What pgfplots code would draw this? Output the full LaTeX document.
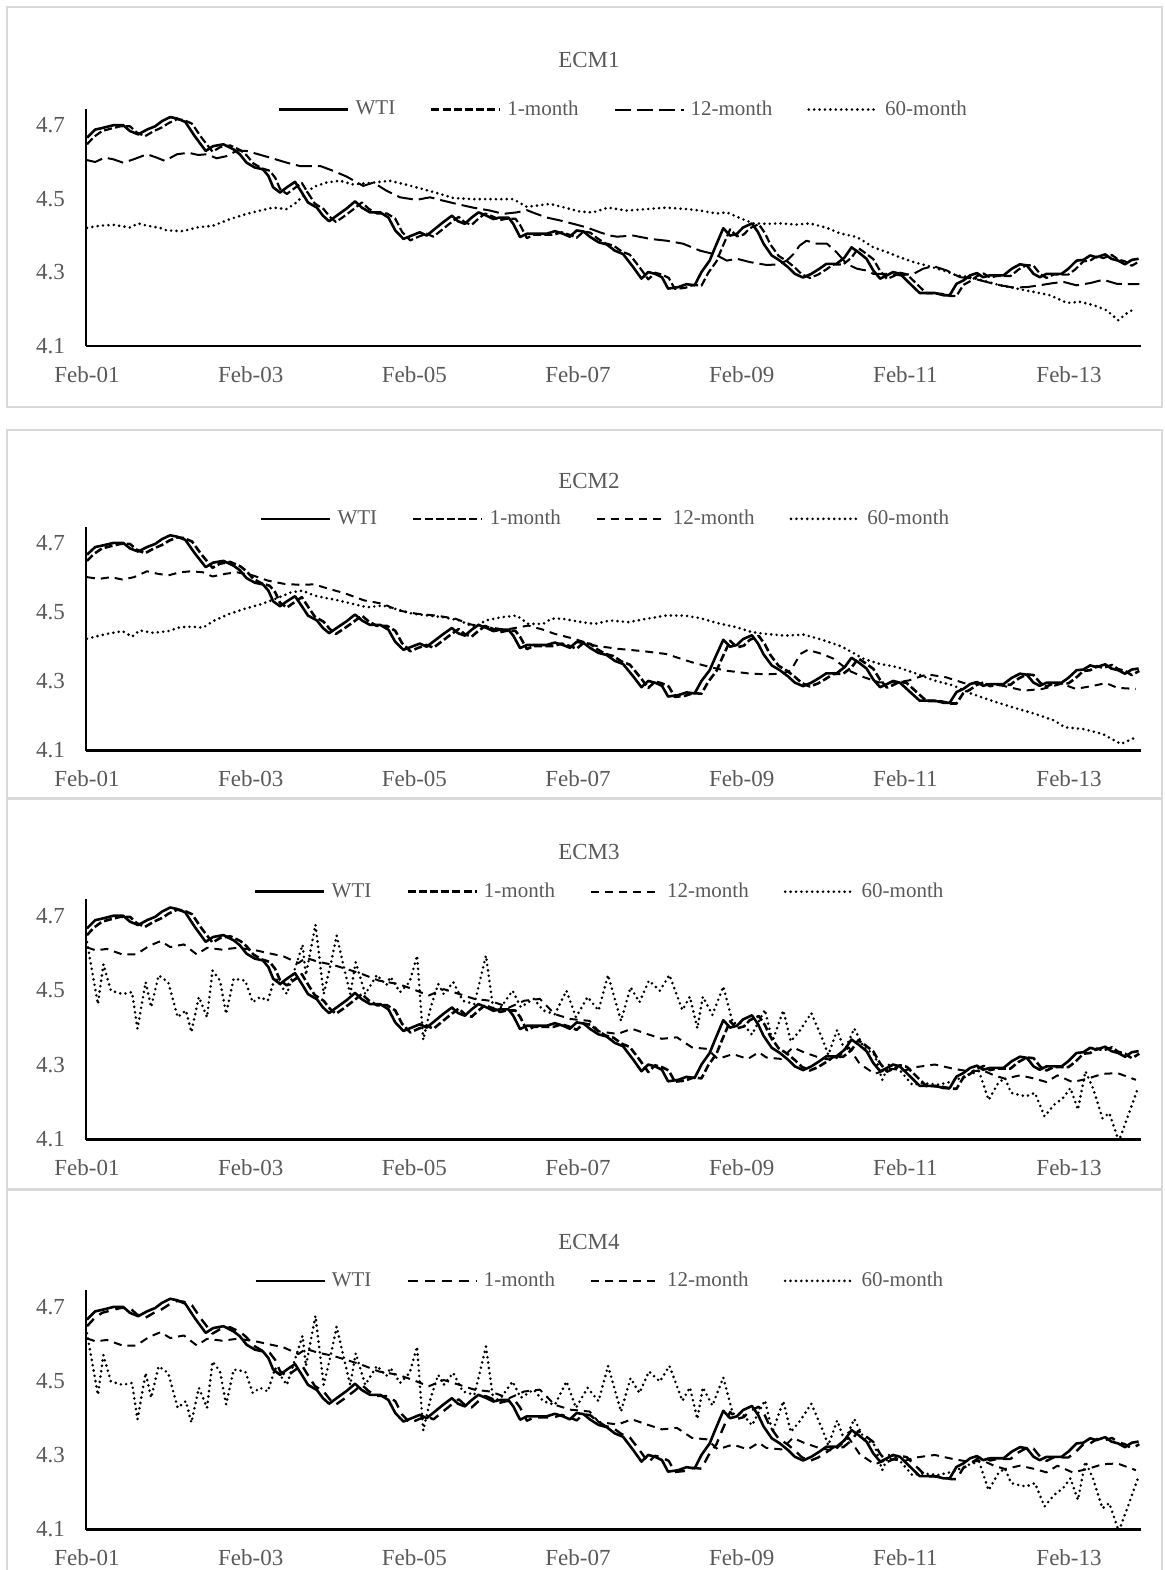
\documentclass[border=0pt]{standalone}
\usepackage{fontspec}
\setmainfont{Liberation Serif}
\usepackage{pgfplots}
\usepackage{pgfplotstable}
\pgfplotsset{compat=1.18}

\definecolor{txtgray}{HTML}{595959}
\definecolor{framegray}{HTML}{D9D9D9}

% x = months since Feb-01, y = log price
\pgfplotstableread{
m v
0 4.666
1.2 4.688
2.4 4.693
3.9 4.700
5.3 4.700
6.3 4.684
7.5 4.675
8.8 4.688
10.0 4.697
11.0 4.711
12.2 4.722
13.2 4.718
14.4 4.709
15.8 4.670
17.4 4.630
18.5 4.643
20.0 4.648
21.5 4.634
22.4 4.621
23.4 4.598
24.6 4.585
25.8 4.580
26.6 4.562
27.3 4.531
28.3 4.517
29.3 4.531
30.5 4.546
31.5 4.517
32.4 4.490
33.7 4.476
34.6 4.454
35.5 4.439
36.6 4.454
38.1 4.474
39.3 4.493
40.3 4.476
41.5 4.463
43.0 4.463
44.2 4.449
45.2 4.414
46.4 4.391
47.6 4.400
48.8 4.409
49.8 4.400
51.0 4.418
52.2 4.436
53.5 4.454
54.4 4.439
55.4 4.432
56.4 4.449
57.4 4.463
58.6 4.454
59.6 4.445
60.5 4.449
61.8 4.449
62.5 4.432
63.5 4.396
64.5 4.405
65.9 4.405
67.4 4.405
68.6 4.412
69.8 4.405
70.8 4.397
71.8 4.414
72.8 4.411
73.8 4.396
75.0 4.382
76.2 4.376
77.4 4.359
78.6 4.350
80.1 4.314
81.3 4.283
82.3 4.301
83.3 4.296
84.3 4.287
85.2 4.256
86.7 4.260
87.9 4.268
89.1 4.265
90.1 4.301
91.3 4.332
92.1 4.368
93.3 4.420
94.3 4.400
95.3 4.405
96.2 4.422
97.5 4.433
98.4 4.409
99.2 4.378
100.4 4.346
101.6 4.332
102.8 4.314
103.8 4.296
105.0 4.286
106.2 4.296
107.4 4.310
108.4 4.323
109.9 4.323
111.1 4.341
112.1 4.368
113.1 4.355
114.3 4.337
115.3 4.305
116.3 4.283
117.3 4.292
118.2 4.301
119.2 4.296
120.2 4.278
121.2 4.260
122.1 4.244
123.1 4.244
124.3 4.244
125.6 4.238
126.5 4.238
127.5 4.269
128.5 4.278
129.5 4.292
130.5 4.298
131.4 4.287
132.4 4.292
133.4 4.292
134.4 4.292
135.6 4.310
136.8 4.322
137.8 4.319
138.8 4.296
139.7 4.287
140.7 4.296
141.7 4.296
142.9 4.296
143.9 4.310
145.1 4.332
146.1 4.334
147.1 4.346
148.0 4.341
149.3 4.349
150.2 4.337
151.2 4.332
152.2 4.322
153.2 4.334
154.2 4.337
}\wti

\pgfplotstableread{
m v
0 4.648
1.0 4.668
2.2 4.684
3.4 4.690
4.9 4.697
6.3 4.697
7.3 4.680
8.5 4.670
9.8 4.684
11.0 4.694
12.0 4.706
13.2 4.716
14.2 4.714
15.4 4.704
16.8 4.666
18.4 4.628
19.5 4.640
21.0 4.645
22.5 4.632
23.4 4.618
24.4 4.596
25.6 4.583
26.8 4.576
27.6 4.557
28.3 4.527
29.3 4.513
30.3 4.527
31.5 4.543
32.5 4.513
33.4 4.487
34.7 4.472
35.6 4.451
36.5 4.437
37.6 4.451
39.1 4.472
40.3 4.490
41.3 4.473
42.5 4.460
44.0 4.460
45.2 4.446
46.2 4.410
47.4 4.387
48.6 4.397
49.8 4.405
50.8 4.397
52.0 4.415
53.2 4.433
54.5 4.451
55.4 4.436
56.4 4.429
57.4 4.446
58.4 4.460
59.6 4.451
60.6 4.442
61.5 4.446
62.8 4.446
63.5 4.429
64.5 4.393
65.5 4.402
66.9 4.402
68.4 4.402
69.6 4.409
70.8 4.402
71.8 4.394
72.8 4.411
73.8 4.408
74.8 4.393
76.0 4.379
77.2 4.373
78.4 4.357
79.6 4.348
81.1 4.312
82.3 4.281
83.3 4.299
84.3 4.294
85.3 4.285
86.2 4.255
87.7 4.258
88.9 4.266
90.1 4.264
91.1 4.299
92.3 4.330
93.1 4.366
94.3 4.417
95.3 4.398
96.3 4.403
97.2 4.420
98.5 4.431
99.4 4.407
100.2 4.376
101.4 4.345
102.6 4.331
103.8 4.313
104.8 4.295
106.0 4.285
107.2 4.294
108.4 4.308
109.4 4.321
110.9 4.322
112.1 4.340
113.1 4.366
114.1 4.353
115.3 4.336
116.3 4.304
117.3 4.282
118.3 4.290
119.2 4.299
120.2 4.295
121.2 4.277
122.2 4.259
123.1 4.243
124.1 4.243
125.3 4.242
126.6 4.236
127.5 4.236
128.5 4.266
129.5 4.276
130.5 4.290
131.5 4.297
132.4 4.286
133.4 4.290
134.4 4.290
135.4 4.290
136.6 4.308
137.8 4.320
138.8 4.318
139.8 4.295
140.7 4.285
141.7 4.294
142.7 4.294
143.9 4.294
144.9 4.308
146.1 4.330
147.1 4.332
148.1 4.344
149.0 4.339
150.3 4.347
151.2 4.335
152.2 4.330
153.2 4.318
154.3 4.330
}\onemonth

% ECM1 forecasts
\pgfplotstableread{
m v
0 4.605
1.2 4.600
2.6 4.612
3.9 4.607
5.3 4.598
6.8 4.607
8.8 4.621
10.2 4.612
11.4 4.603
13.2 4.621
14.9 4.625
16.3 4.619
17.6 4.621
19.0 4.610
20.5 4.616
22.0 4.631
23.4 4.630
24.9 4.622
26.8 4.612
29.3 4.598
31.2 4.589
34.2 4.589
36.1 4.576
38.1 4.560
40.5 4.535
42.0 4.544
43.9 4.522
45.9 4.504
48.3 4.497
50.3 4.504
52.2 4.495
54.2 4.486
56.6 4.476
59.1 4.468
61.0 4.459
63.0 4.463
64.5 4.469
65.9 4.459
67.4 4.449
69.4 4.441
71.3 4.432
73.3 4.422
75.2 4.409
76.7 4.400
77.7 4.397
80.1 4.400
82.6 4.391
85.0 4.386
87.4 4.378
89.9 4.359
92.1 4.349
93.8 4.332
95.3 4.337
97.2 4.328
99.7 4.320
101.4 4.322
102.6 4.332
103.6 4.350
104.5 4.373
105.5 4.386
107.0 4.378
108.5 4.378
109.9 4.355
111.4 4.323
112.9 4.310
114.3 4.305
115.3 4.296
117.3 4.296
119.2 4.292
121.2 4.296
122.6 4.310
124.1 4.317
126.1 4.305
128.0 4.287
130.0 4.283
131.9 4.274
133.9 4.265
135.8 4.259
137.8 4.260
139.7 4.265
141.7 4.271
143.2 4.274
145.1 4.265
147.1 4.271
149.0 4.280
151.0 4.269
153.4 4.268
154.3 4.268
}\ecmAtwelve

\pgfplotstableread{
m v
0 4.421
1.9 4.427
3.9 4.429
6.3 4.422
7.5 4.433
8.8 4.427
10.7 4.421
11.7 4.414
14.1 4.412
16.1 4.422
18.5 4.427
21.0 4.445
23.4 4.459
25.4 4.468
27.3 4.476
29.3 4.472
30.7 4.490
32.2 4.517
33.2 4.532
35.1 4.544
37.1 4.549
39.0 4.539
42.0 4.544
44.4 4.549
46.9 4.538
49.3 4.526
51.8 4.513
53.7 4.502
56.6 4.499
59.6 4.499
62.5 4.499
64.5 4.478
67.9 4.486
70.3 4.475
72.3 4.465
74.2 4.463
76.4 4.476
79.1 4.468
82.1 4.472
85.0 4.476
87.9 4.472
89.9 4.468
92.3 4.460
93.8 4.463
95.7 4.448
97.7 4.433
99.7 4.432
101.6 4.433
104.1 4.430
106.0 4.433
108.5 4.421
110.4 4.406
112.9 4.396
114.3 4.380
115.3 4.368
117.3 4.355
119.2 4.341
121.2 4.328
123.6 4.316
125.6 4.305
127.5 4.292
129.5 4.287
131.4 4.278
133.9 4.265
136.3 4.256
138.8 4.247
141.2 4.238
143.7 4.217
145.6 4.220
147.6 4.211
149.5 4.197
151.2 4.170
152.4 4.188
153.7 4.202
}\ecmAsixty

% ECM2 forecasts
\pgfplotstableread{
m v
0 4.601
1.8 4.596
3.5 4.601
5.2 4.594
6.9 4.601
8.8 4.618
10.3 4.611
11.9 4.606
13.6 4.615
15.3 4.618
17.0 4.615
18.4 4.603
20.4 4.611
22.0 4.615
24.3 4.606
26.5 4.591
28.8 4.582
31.0 4.579
33.3 4.580
35.5 4.567
37.7 4.555
40.6 4.534
43.4 4.524
45.6 4.505
48.4 4.495
51.2 4.490
54.0 4.481
56.3 4.464
59.1 4.456
61.3 4.449
64.7 4.461
66.9 4.449
68.6 4.437
71.4 4.423
74.5 4.403
77.8 4.394
81.6 4.387
84.9 4.379
88.7 4.355
91.4 4.341
93.6 4.331
96.9 4.323
99.6 4.320
101.8 4.322
103.2 4.331
104.6 4.379
105.7 4.391
107.8 4.379
109.5 4.365
111.7 4.331
113.9 4.312
116.1 4.297
118.2 4.297
120.4 4.302
123.2 4.320
125.9 4.312
128.6 4.295
131.4 4.293
134.1 4.288
137.4 4.273
140.1 4.278
142.9 4.293
145.0 4.278
147.8 4.288
149.4 4.295
151.1 4.281
153.8 4.278
}\ecmBtwelve

\pgfplotstableread{
m v
0 4.423
2.9 4.437
5.2 4.445
6.6 4.429
7.7 4.447
9.7 4.440
11.9 4.445
13.6 4.456
15.3 4.458
17.0 4.455
18.7 4.476
20.9 4.495
23.2 4.510
25.4 4.522
27.6 4.538
29.9 4.557
31.6 4.562
33.3 4.548
34.9 4.541
36.6 4.535
38.9 4.524
41.1 4.514
43.4 4.519
45.6 4.507
47.8 4.495
50.1 4.490
52.3 4.485
54.6 4.476
56.8 4.456
58.5 4.476
60.7 4.485
63.0 4.490
64.7 4.466
66.9 4.466
68.1 4.481
69.7 4.481
72.5 4.471
74.5 4.466
76.7 4.476
79.4 4.471
82.1 4.481
84.9 4.490
87.6 4.490
89.8 4.483
92.5 4.468
95.3 4.456
97.5 4.442
99.6 4.437
102.4 4.432
105.1 4.435
107.8 4.420
110.6 4.401
113.9 4.365
116.1 4.351
118.8 4.341
121.5 4.323
124.3 4.302
127.0 4.288
129.7 4.264
132.5 4.245
135.7 4.225
139.0 4.206
141.8 4.187
143.4 4.167
146.1 4.162
148.9 4.148
151.6 4.119
153.8 4.138
}\ecmBsixty

% ECM3 / ECM4 forecasts
\pgfplotstableread{
m v
0 4.615
1.3 4.607
2.9 4.611
5.2 4.596
7.2 4.596
9.1 4.619
10.8 4.632
12.2 4.616
14.2 4.623
16.1 4.596
17.6 4.614
19.8 4.609
22.0 4.614
24.3 4.609
26.5 4.600
28.8 4.591
31.0 4.573
32.1 4.587
33.8 4.577
36.1 4.568
37.7 4.559
40.0 4.546
42.8 4.526
45.6 4.517
47.8 4.503
50.1 4.486
52.3 4.503
54.6 4.490
56.8 4.477
59.1 4.472
61.9 4.454
64.1 4.472
66.4 4.477
68.6 4.436
70.9 4.423
73.7 4.418
75.0 4.390
77.8 4.383
79.9 4.397
82.1 4.383
84.3 4.370
86.5 4.374
88.7 4.347
90.9 4.343
92.5 4.316
94.7 4.329
96.9 4.316
98.5 4.334
99.6 4.320
101.8 4.316
103.5 4.347
105.1 4.334
107.3 4.320
109.5 4.312
111.7 4.347
113.3 4.303
115.5 4.276
117.7 4.290
119.9 4.285
121.5 4.294
124.3 4.301
127.0 4.290
129.2 4.283
131.4 4.285
133.0 4.272
134.6 4.263
136.8 4.272
139.0 4.263
140.7 4.254
142.3 4.272
144.5 4.254
146.7 4.263
148.9 4.276
151.1 4.278
153.8 4.260
}\ecmCtwelve

\pgfplotstableread{
m v
0 4.629
1.6 4.463
2.4 4.570
3.5 4.499
5.2 4.490
6.6 4.495
7.4 4.397
8.6 4.522
9.4 4.455
10.5 4.540
11.9 4.522
13.3 4.428
14.5 4.446
15.3 4.388
16.4 4.482
17.6 4.428
18.4 4.553
19.5 4.526
20.4 4.437
21.5 4.531
23.2 4.526
24.3 4.468
25.4 4.482
26.5 4.472
27.6 4.535
29.3 4.490
31.6 4.622
32.1 4.541
33.5 4.676
34.7 4.490
35.8 4.575
36.6 4.647
37.7 4.559
38.6 4.490
39.4 4.575
40.8 4.490
42.5 4.541
43.9 4.514
44.5 4.536
45.9 4.495
47.3 4.522
48.4 4.593
49.3 4.367
50.4 4.455
51.5 4.517
52.3 4.490
53.7 4.522
55.1 4.472
56.8 4.463
58.5 4.593
59.6 4.446
60.7 4.455
62.4 4.499
63.6 4.455
65.5 4.477
66.9 4.446
68.6 4.436
70.3 4.499
71.7 4.428
73.4 4.482
75.0 4.446
76.4 4.541
78.3 4.418
79.7 4.508
81.0 4.468
82.4 4.526
84.0 4.499
85.4 4.541
87.3 4.447
88.4 4.483
89.5 4.398
90.3 4.483
91.7 4.434
93.3 4.510
94.7 4.412
96.1 4.412
97.5 4.381
99.4 4.448
100.5 4.363
102.1 4.446
103.2 4.363
104.6 4.394
106.2 4.439
107.8 4.371
108.7 4.327
110.0 4.394
111.1 4.338
112.5 4.398
113.9 4.347
115.5 4.327
116.6 4.260
117.7 4.305
119.3 4.283
121.0 4.247
122.6 4.251
124.8 4.247
127.0 4.256
129.2 4.274
130.8 4.283
132.2 4.206
133.6 4.251
134.6 4.265
135.5 4.225
136.6 4.220
137.7 4.216
139.0 4.225
140.4 4.162
141.8 4.193
143.1 4.211
144.2 4.238
145.3 4.180
146.4 4.283
147.5 4.238
148.9 4.157
149.9 4.171
151.3 4.095
152.7 4.166
154.1 4.238
}\ecmCsixty

\pgfplotsset{
  wti/.style={black, line width=1.3pt, solid},
  onem/.style={black, line width=1.1pt, dash pattern=on 4pt off 1.6pt},
  onemlong/.style={black, line width=1.2pt, dash pattern=on 5pt off 3.5pt},
  twelvelong/.style={black, line width=1pt, dash pattern=on 8pt off 3pt},
  twelvemed/.style={black, line width=1pt, dash pattern=on 4pt off 3pt},
  sixty/.style={black, line width=1.45pt, line cap=round, dash pattern=on 0pt off 2.7pt},
  ecm/.style={
    scale only axis,
    width=527.5pt,
    xmin=-0.15, xmax=154.55,
    ymin=4.1, ymax=4.745,
    axis x line*=bottom, axis y line*=left,
    axis line style={line width=1.2pt, -},
    xtick={0,24,48,72,96,120,144},
    xticklabels={Feb-01,Feb-03,Feb-05,Feb-07,Feb-09,Feb-11,Feb-13},
    ytick={4.1,4.3,4.5,4.7},
    /pgf/number format/fixed,
    /pgf/number format/precision=1,
    /pgf/number format/fixed zerofill,
    /pgf/number format/assume math mode=true,
    major tick length=0pt,
    tick style={draw=none},
    ticklabel style={font=\fontsize{11.5}{13}\selectfont, text=txtgray},
    xticklabel style={yshift=-6.5pt},
    yticklabel style={xshift=-7pt},
    every axis plot/.append style={no markers, line join=round},
    legend columns=4,
    legend style={draw=none, fill=none, anchor=center,
      font=\fontsize{10.5}{12}\selectfont, text=txtgray,
      nodes={inner sep=0pt},
      /tikz/every odd column/.append style={column sep=3pt},
      /tikz/every even column/.append style={column sep=17.5pt}},
    legend image code/.code={\draw[##1] (0pt,0pt) -- (34.5pt,0pt);},
  },
}

\begin{document}
\begin{tikzpicture}
\path[use as bounding box] (0,0) rectangle (582.5pt,-785pt);

% panel frames
\draw[framegray, line width=1pt] (3.5pt,-3.5pt) rectangle (581pt,-203.5pt);
\draw[framegray, line width=1pt] (3.5pt,-215pt) rectangle (581pt,-399pt);
\draw[framegray, line width=1pt] (3.5pt,-399.5pt) rectangle (581pt,-594.5pt);
\draw[framegray, line width=1pt] (3.5pt,-595pt) rectangle (581pt,-792pt);

% ECM1
\begin{axis}[ecm, at={(43pt,-173pt)}, anchor=south west, height=118.7pt,
  legend style={at={(0.5085,0.996)}}]
\addplot[wti] table[x=m, y=v] {\wti};
\addlegendentry{WTI}
\addplot[onem] table[x=m, y=v] {\onemonth};
\addlegendentry{1-month}
\addplot[twelvelong] table[x=m, y=v] {\ecmAtwelve};
\addlegendentry{12-month}
\addplot[sixty] table[x=m, y=v] {\ecmAsixty};
\addlegendentry{60-month}
\end{axis}
\node[text=txtgray, font=\fontsize{11.5}{13}\selectfont] at (294.5pt,-30pt) {ECM1};

% ECM2
\begin{axis}[ecm, at={(43pt,-375.25pt)}, anchor=south west, height=111.6pt,
  legend style={at={(0.4915,1.038)}}]
\addplot[wti] table[x=m, y=v] {\wti};
\addlegendentry{WTI}
\addplot[onem, line width=1.3pt] table[x=m, y=v] {\onemonth};
\addlegendentry{1-month}
\addplot[twelvemed] table[x=m, y=v] {\ecmBtwelve};
\addlegendentry{12-month}
\addplot[sixty] table[x=m, y=v] {\ecmBsixty};
\addlegendentry{60-month}
\end{axis}
\node[text=txtgray, font=\fontsize{11.5}{13}\selectfont] at (294.5pt,-240.5pt) {ECM2};

% ECM3
\begin{axis}[ecm, at={(43pt,-569.75pt)}, anchor=south west, height=120.3pt,
  legend style={at={(0.486,1.03)}}]
\addplot[wti] table[x=m, y=v] {\wti};
\addlegendentry{WTI}
\addplot[onem, line width=1.3pt] table[x=m, y=v] {\onemonth};
\addlegendentry{1-month}
\addplot[twelvemed] table[x=m, y=v] {\ecmCtwelve};
\addlegendentry{12-month}
\addplot[sixty] table[x=m, y=v] {\ecmCsixty};
\addlegendentry{60-month}
\end{axis}
\node[text=txtgray, font=\fontsize{11.5}{13}\selectfont] at (294.5pt,-426pt) {ECM3};

% ECM4
\begin{axis}[ecm, at={(43pt,-764.75pt)}, anchor=south west, height=119.65pt,
  legend style={at={(0.486,1.039)}}]
\addplot[wti] table[x=m, y=v] {\wti};
\addlegendentry{WTI}
\addplot[onemlong] table[x=m, y=v] {\onemonth};
\addlegendentry{1-month}
\addplot[twelvemed] table[x=m, y=v] {\ecmCtwelve};
\addlegendentry{12-month}
\addplot[sixty] table[x=m, y=v] {\ecmCsixty};
\addlegendentry{60-month}
\end{axis}
\node[text=txtgray, font=\fontsize{11.5}{13}\selectfont] at (294.5pt,-621pt) {ECM4};
\end{tikzpicture}
\end{document}
